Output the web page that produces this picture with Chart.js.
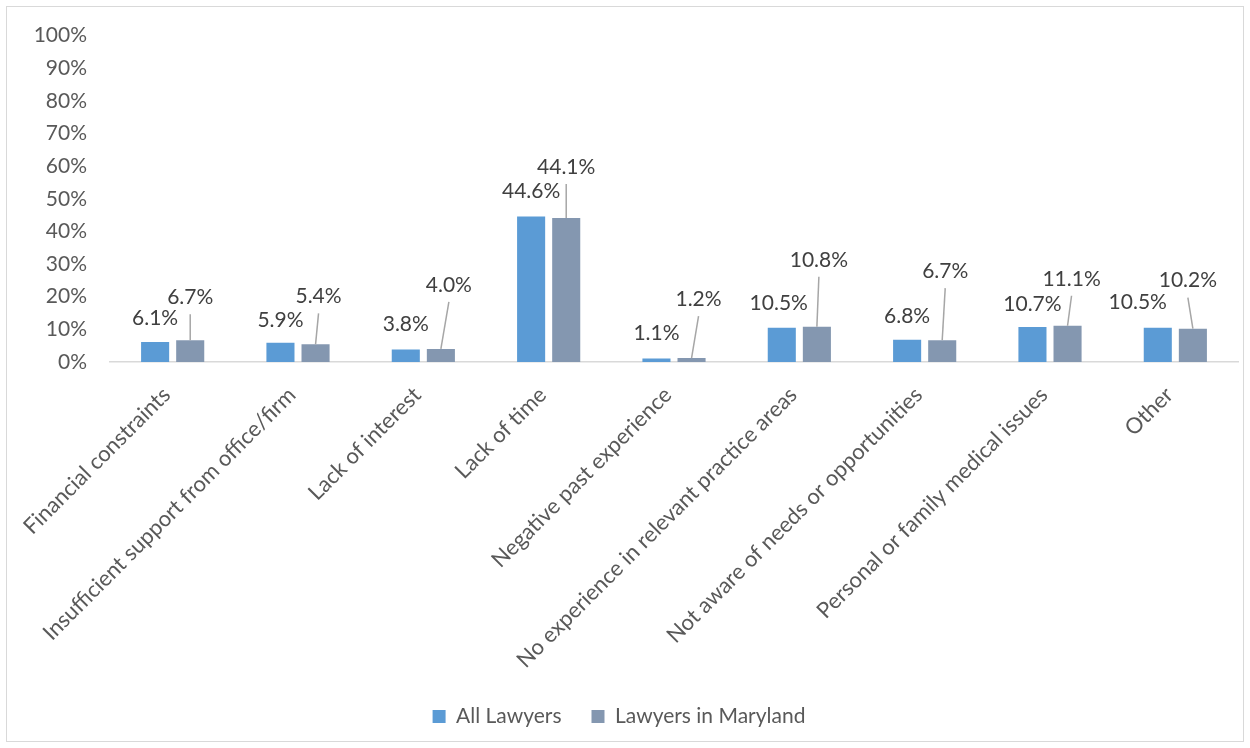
<!DOCTYPE html>
<html>
<head>
<meta charset="utf-8">
<script src="https://cdn.jsdelivr.net/npm/chart.js@4.4.1/dist/chart.umd.min.js"></script>
<style>
  html, body { margin: 0; padding: 0; background: #ffffff; }
  #wrap { position: relative; width: 1250px; height: 748px; }
  #frame { position: absolute; left: 6px; top: 6px; width: 1236px; height: 734px; border: 1px solid #d9d9d9; pointer-events: none; }
  canvas { position: absolute; left: 0; top: 0; }
</style>
</head>
<body>
<div id="wrap">
  <canvas id="chart" width="1250" height="748"></canvas>
  <div id="frame"></div>
</div>
<script>
const categories = [
  "Financial constraints",
  "Insufficient support from office/firm",
  "Lack of interest",
  "Lack of time",
  "Negative past experience",
  "No experience in relevant practice areas",
  "Not aware of needs or opportunities",
  "Personal or family medical issues",
  "Other"
];
const seriesNames = ["All Lawyers", "Lawyers in Maryland"];
const allLawyers = [6.1, 5.9, 3.8, 44.6, 1.1, 10.5, 6.8, 10.7, 10.5];
const marylandLawyers = [6.7, 5.4, 4.0, 44.1, 1.2, 10.8, 6.7, 11.1, 10.2];
const yTickValues = [0, 10, 20, 30, 40, 50, 60, 70, 80, 90, 100];

const FONT = "Lato, 'Open Sans', sans-serif";

const barLabels = {
  id: 'barLabels',
  afterDatasetsDraw(chart, args, opts) {
    const ctx = chart.ctx;
    ctx.save();
    ctx.font = '21px ' + FONT;
    ctx.textAlign = 'center';
    ctx.textBaseline = 'middle';
    chart.data.datasets.forEach((ds, di) => {
      const meta = chart.getDatasetMeta(di);
      meta.data.forEach((bar, i) => {
        const off = opts.offsets[di][i];
        const lx = bar.x + off[0];
        const ly = bar.y + off[1];
        if (opts.leader[di]) {
          ctx.strokeStyle = '#a6a6a6';
          ctx.lineWidth = 1.5;
          ctx.beginPath();
          ctx.moveTo(bar.x, bar.y);
          ctx.lineTo(lx, ly + 17);
          ctx.stroke();
        }
        ctx.fillStyle = '#404040';
        ctx.fillText(ds.data[i].toFixed(1) + '%', lx, ly);
      });
    });
    ctx.restore();
  }
};

new Chart(document.getElementById('chart'), {
  type: 'bar',
  data: {
    labels: categories,
    datasets: [
      { label: seriesNames[0], data: allLawyers, backgroundColor: '#5b9bd5', borderWidth: 0 },
      { label: seriesNames[1], data: marylandLawyers, backgroundColor: '#8497b0', borderWidth: 0 }
    ]
  },
  options: {
    responsive: false,
    devicePixelRatio: 1,
    animation: false,
    categoryPercentage: 0.56,
    barPercentage: 0.8,
    layout: { padding: { top: 35, left: 0, right: 12, bottom: 11 } },
    plugins: {
      legend: {
        position: 'bottom',
        labels: {
          boxWidth: 13, boxHeight: 13, padding: 30,
          color: '#595959',
          font: { family: FONT, size: 21 }
        }
      },
      tooltip: { enabled: false },
      barLabels: {
        leader: [false, true],
        offsets: [
          [[0,-24],[0,-23],[0,-25],[0,-25],[0,-25],[-3,-24],[0,-24],[0,-23],[-20,-25]],
          [[0,-43],[3,-48],[8,-64],[0,-51],[7,-59],[2,-67],[3,-69],[4,-47],[-5,-48]]
        ]
      }
    },
    scales: {
      x: {
        grid: { display: false, drawTicks: false },
        border: { display: true, color: '#d9d9d9', width: 1.5 },
        ticks: {
          color: '#595959', font: { family: FONT, size: 22 },
          minRotation: 45, maxRotation: 45, padding: 20, labelOffset: -6, autoSkip: false
        },
        afterFit(scale) { scale.height = 314; }
      },
      y: {
        min: 0, max: 100,
        grid: { display: false, drawTicks: false },
        border: { display: false },
        afterBuildTicks(scale) { scale.ticks = yTickValues.map(v => ({ value: v })); },
        ticks: {
          color: '#595959', font: { family: FONT, size: 21 }, padding: 23,
          callback: v => v + '%'
        },
        afterFit(scale) { scale.width = 110; }
      }
    }
  },
  plugins: [barLabels]
});
</script>
</body>
</html>
